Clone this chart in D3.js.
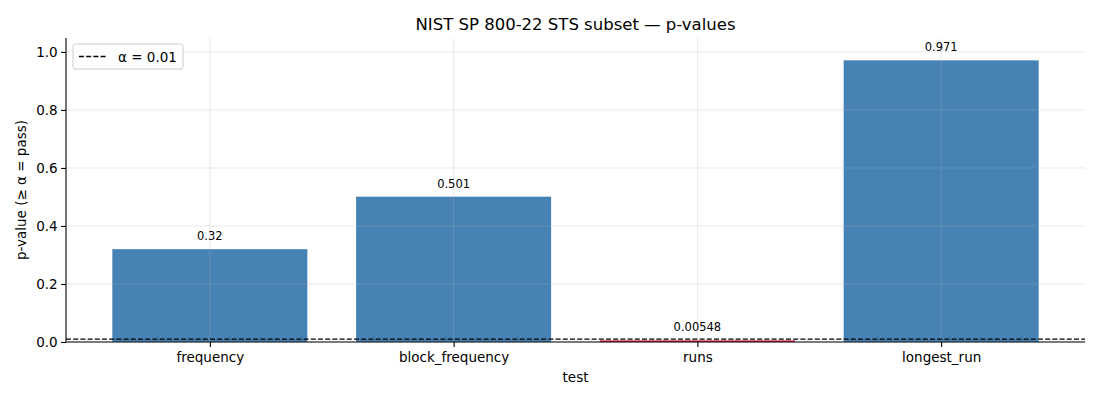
<!DOCTYPE html>
<html>
<head>
<meta charset="utf-8">
<script src="https://cdn.jsdelivr.net/npm/d3@7"></script>
<style>
  body { margin: 0; background: #fff; }
  svg { font-family: "DejaVu Sans", sans-serif; }
</style>
</head>
<body>
<svg id="chart" width="1100" height="400"></svg>
<script>
// data
const tests = ["frequency", "block_frequency", "runs", "longest_run"];
const pValues = [0.32, 0.501, 0.00548, 0.971];
const barLabels = ["0.32", "0.501", "0.00548", "0.971"];
const alpha = 0.01;
const yTicks = [0.0, 0.2, 0.4, 0.6, 0.8, 1.0];

const margin = {top: 38, right: 15, bottom: 58, left: 66};
const width = 1100 - margin.left - margin.right;
const height = 400 - margin.top - margin.bottom;

const svg = d3.select("#chart");
const g = svg.append("g").attr("transform", `translate(${margin.left},${margin.top})`);

// x is linear so the bar width / margins behave like matplotlib
const x = d3.scaleLinear().domain([-0.59, tests.length - 1 + 0.59]).range([0, width]);
const y = d3.scaleLinear().domain([0, 1.048]).range([height, 0]);
const barW = x(0.8) - x(0);

// bars
g.selectAll("rect.bar").data(pValues).join("rect")
  .attr("class", "bar")
  .attr("x", (d, i) => x(i - 0.4))
  .attr("y", d => y(d))
  .attr("width", barW)
  .attr("height", d => y(0) - y(d))
  .attr("fill", d => d < alpha ? "#dc143c" : "#4682b4");

// grid (drawn above bars, semi transparent like the original)
const grid = g.append("g").attr("stroke", "#b0b0b0").attr("stroke-opacity", 0.35).attr("stroke-width", 0.8);
grid.selectAll("line.h").data(yTicks).join("line")
  .attr("x1", 0).attr("x2", width)
  .attr("y1", d => y(d)).attr("y2", d => y(d));
grid.selectAll("line.v").data(tests).join("line")
  .attr("class", "v")
  .attr("x1", (d, i) => x(i)).attr("x2", (d, i) => x(i))
  .attr("y1", 0).attr("y2", height);

// alpha line
g.append("line")
  .attr("x1", 0).attr("x2", width)
  .attr("y1", y(alpha)).attr("y2", y(alpha))
  .attr("stroke", "#000").attr("stroke-width", 1.3)
  .attr("stroke-dasharray", "5,2.2");

// value labels
g.selectAll("text.val").data(pValues).join("text")
  .attr("class", "val")
  .attr("x", (d, i) => x(i))
  .attr("y", d => y(d) - 9)
  .attr("text-anchor", "middle")
  .attr("font-size", 11.5)
  .text((d, i) => barLabels[i]);

// axes
const xAxis = d3.axisBottom(x).tickValues(d3.range(tests.length)).tickFormat(i => tests[i]).tickSize(4.9).tickPadding(5.5);
const yAxis = d3.axisLeft(y).tickValues(yTicks).tickFormat(d3.format(".1f")).tickSize(4.9).tickPadding(3.5);

const xg = g.append("g").attr("transform", `translate(0,${height})`).call(xAxis);
const yg = g.append("g").call(yAxis);
[xg, yg].forEach(a => {
  a.select(".domain").attr("stroke", "#000").attr("stroke-width", 1.1);
  a.selectAll(".tick line").attr("stroke", "#000").attr("stroke-width", 1.1);
  a.selectAll(".tick text").attr("font-size", 13.5).attr("fill", "#000").attr("font-family", "DejaVu Sans");
});
// matplotlib spines: no outer tick caps
xg.select(".domain").attr("d", `M0,0H${width}`);
yg.select(".domain").attr("d", `M0,${height}V0`);

// labels
svg.append("text")
  .attr("x", margin.left + width / 2).attr("y", 30)
  .attr("text-anchor", "middle").attr("font-size", 16.5)
  .text("NIST SP 800-22 STS subset — p-values");
svg.append("text")
  .attr("x", margin.left + width / 2).attr("y", 382)
  .attr("text-anchor", "middle").attr("font-size", 13.5)
  .text("test");
svg.append("text")
  .attr("transform", `translate(26,${margin.top + height / 2}) rotate(-90)`)
  .attr("text-anchor", "middle").attr("font-size", 13.5)
  .text("p-value (≥ α = pass)");

// legend
const lg = g.append("g").attr("transform", "translate(7,6)");
lg.append("rect")
  .attr("width", 110).attr("height", 25).attr("rx", 2.5)
  .attr("fill", "#fff").attr("fill-opacity", 0.8)
  .attr("stroke", "#ccc").attr("stroke-width", 1);
lg.append("line")
  .attr("x1", 6).attr("x2", 34).attr("y1", 12.5).attr("y2", 12.5)
  .attr("stroke", "#000").attr("stroke-width", 1.3).attr("stroke-dasharray", "5,2.2");
lg.append("text")
  .attr("x", 45).attr("y", 17.5).attr("font-size", 13.5)
  .text("α = 0.01");
</script>
</body>
</html>
